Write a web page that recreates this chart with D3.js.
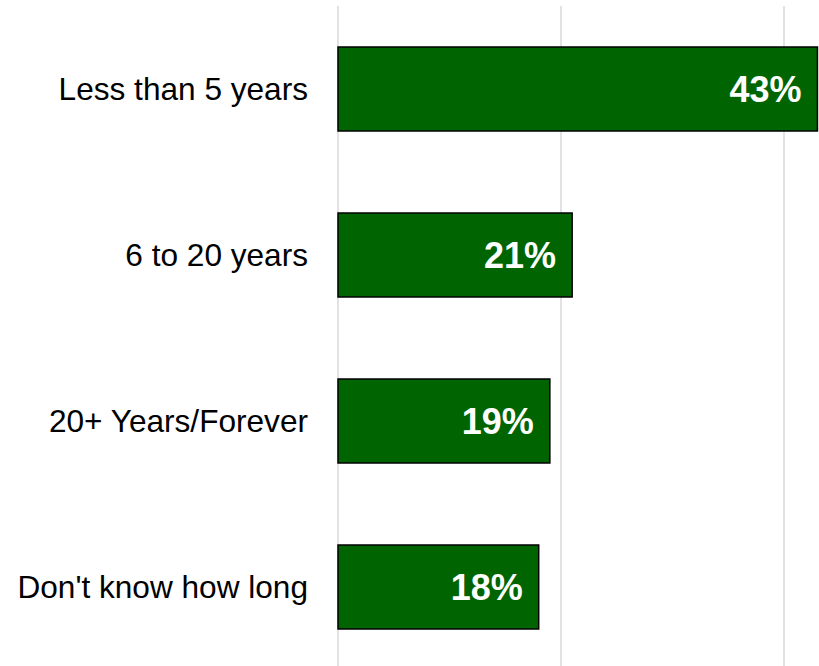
<!DOCTYPE html>
<html>
  <head>
    <script src="https://d3js.org/d3.v7.min.js"></script>
    <style>
      body { margin: 0; background: #fff; }
      .grid { stroke: #d9d9d9; stroke-width: 1.5; }
      .bar { fill: #006400; stroke: #000; stroke-width: 1.5; }
      .cat { font-family: "Liberation Sans", Arial, sans-serif; font-size: 31.6px; fill: #000; }
      .val { font-family: "Liberation Sans", Arial, sans-serif; font-size: 36px; font-weight: bold; fill: #fff; }
    </style>
  </head>
  <body>
    <svg width="819" height="666"></svg>
    <script>
      var categories = ["Less than 5 years", "6 to 20 years", "20+ Years/Forever", "Don't know how long"];
      var values = [43, 21, 19, 18];
      var gridTicks = [0, 20, 40];

      var svg = d3.select("svg");

      var x = d3.scaleLinear().domain([0, 40]).range([338, 784]);
      var y = d3.scaleBand()
        .domain(categories)
        .range([6, 670])
        .paddingInner(0.494)
        .paddingOuter(0.247);

      svg.selectAll("line.grid")
        .data(gridTicks)
        .enter()
        .append("line")
          .attr("class", "grid")
          .attr("x1", d => x(d))
          .attr("x2", d => x(d))
          .attr("y1", 6)
          .attr("y2", 666);

      var rows = categories.map((c, i) => ({ cat: c, val: values[i] }));

      svg.selectAll("rect.bar")
        .data(rows)
        .enter()
        .append("rect")
          .attr("class", "bar")
          .attr("x", x(0))
          .attr("y", d => y(d.cat))
          .attr("width", d => x(d.val) - x(0))
          .attr("height", y.bandwidth());

      svg.selectAll("text.val")
        .data(rows)
        .enter()
        .append("text")
          .attr("class", "val")
          .attr("x", d => x(d.val) - 16)
          .attr("y", d => y(d.cat) + y.bandwidth() / 2)
          .attr("dy", "0.36em")
          .style("text-anchor", "end")
          .text(d => d.val + "%");

      svg.selectAll("text.cat")
        .data(rows)
        .enter()
        .append("text")
          .attr("class", "cat")
          .attr("x", 308)
          .attr("y", d => y(d.cat) + y.bandwidth() / 2)
          .attr("dy", "0.36em")
          .style("text-anchor", "end")
          .text(d => d.cat);
    </script>
  </body>
</html>
